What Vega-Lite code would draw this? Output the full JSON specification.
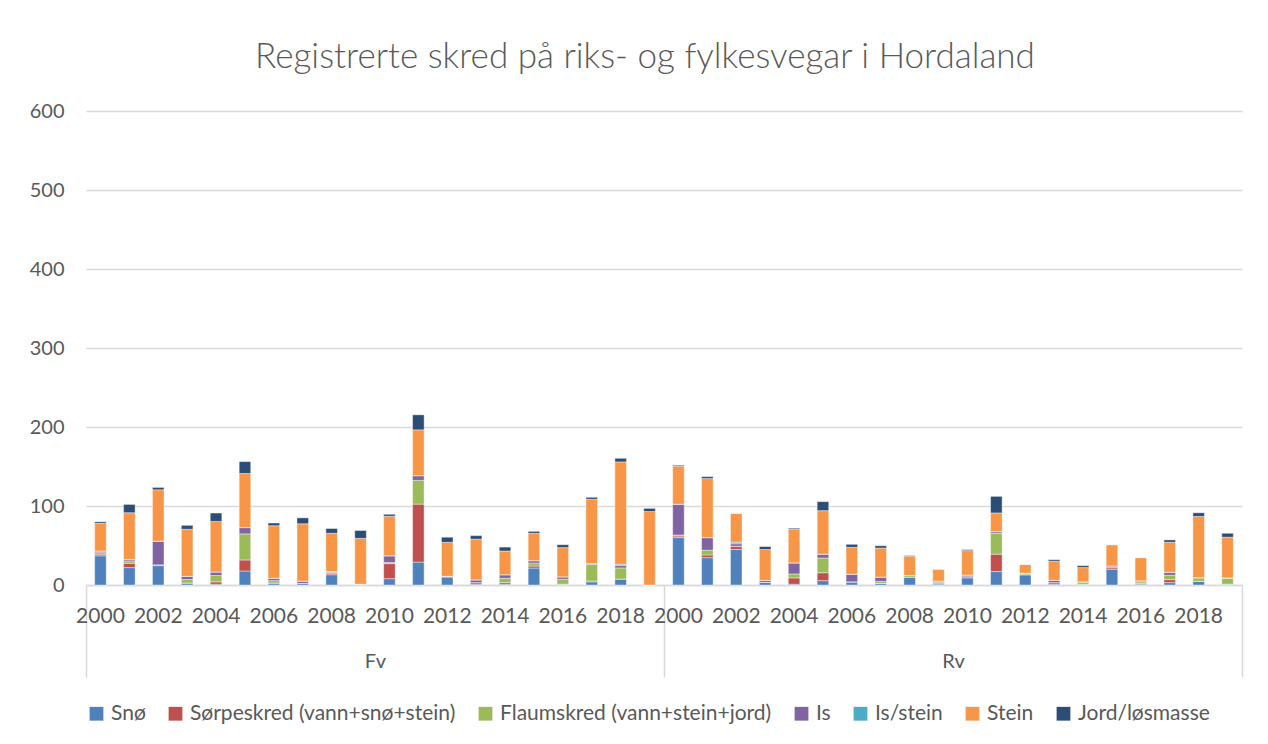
{
  "$schema": "https://vega.github.io/schema/vega-lite/v6.json",
  "autosize": "none",
  "width": 1156,
  "height": 474,
  "padding": {"left": 86, "top": 111, "right": 26, "bottom": 159},
  "background": "white",
  "config": {
    "view": {"stroke": null},
    "font": "Lato",
    "text": {"font": "Lato"}
  },
  "title": {
    "text": "Registrerte skred på riks- og fylkesvegar i Hordaland",
    "font": "Lato",
    "fontSize": 35,
    "fontWeight": 300,
    "color": "#595959",
    "anchor": "middle",
    "offset": 26,
    "dx": -19
  },
  "data": {
    "values": [
      {"g": "Fv", "year": 2000, "Snø": 37, "Sørpeskred (vann+snø+stein)": 2, "Flaumskred (vann+stein+jord)": 2, "Is": 2, "Is/stein": 0, "Stein": 35, "Jord/løsmasse": 2},
      {"g": "Fv", "year": 2001, "Snø": 22, "Sørpeskred (vann+snø+stein)": 5.5, "Flaumskred (vann+stein+jord)": 3, "Is": 2, "Is/stein": 0, "Stein": 59, "Jord/løsmasse": 10.5},
      {"g": "Fv", "year": 2002, "Snø": 24.5, "Sørpeskred (vann+snø+stein)": 1, "Flaumskred (vann+stein+jord)": 0, "Is": 30, "Is/stein": 0, "Stein": 65, "Jord/løsmasse": 3},
      {"g": "Fv", "year": 2003, "Snø": 2.5, "Sørpeskred (vann+snø+stein)": 0, "Flaumskred (vann+stein+jord)": 4.5, "Is": 4, "Is/stein": 0, "Stein": 59.5, "Jord/løsmasse": 5},
      {"g": "Fv", "year": 2004, "Snø": 1, "Sørpeskred (vann+snø+stein)": 3, "Flaumskred (vann+stein+jord)": 8, "Is": 4.5, "Is/stein": 0, "Stein": 64, "Jord/løsmasse": 10.5},
      {"g": "Fv", "year": 2005, "Snø": 17.7, "Sørpeskred (vann+snø+stein)": 14, "Flaumskred (vann+stein+jord)": 33, "Is": 8, "Is/stein": 0, "Stein": 68.5, "Jord/løsmasse": 15},
      {"g": "Fv", "year": 2006, "Snø": 2.5, "Sørpeskred (vann+snø+stein)": 0, "Flaumskred (vann+stein+jord)": 3, "Is": 3, "Is/stein": 0, "Stein": 66.5, "Jord/løsmasse": 3.5},
      {"g": "Fv", "year": 2007, "Snø": 2, "Sørpeskred (vann+snø+stein)": 0, "Flaumskred (vann+stein+jord)": 0, "Is": 3, "Is/stein": 0, "Stein": 72.5, "Jord/løsmasse": 7.5},
      {"g": "Fv", "year": 2008, "Snø": 13, "Sørpeskred (vann+snø+stein)": 2, "Flaumskred (vann+stein+jord)": 1, "Is": 1, "Is/stein": 0, "Stein": 48.5, "Jord/løsmasse": 6},
      {"g": "Fv", "year": 2009, "Snø": 1, "Sørpeskred (vann+snø+stein)": 0, "Flaumskred (vann+stein+jord)": 0, "Is": 0, "Is/stein": 0, "Stein": 58, "Jord/løsmasse": 10},
      {"g": "Fv", "year": 2010, "Snø": 8, "Sørpeskred (vann+snø+stein)": 19, "Flaumskred (vann+stein+jord)": 1.5, "Is": 8.5, "Is/stein": 0, "Stein": 50, "Jord/løsmasse": 2.5},
      {"g": "Fv", "year": 2011, "Snø": 29, "Sørpeskred (vann+snø+stein)": 73.4, "Flaumskred (vann+stein+jord)": 30, "Is": 6, "Is/stein": 0, "Stein": 58, "Jord/løsmasse": 19},
      {"g": "Fv", "year": 2012, "Snø": 10, "Sørpeskred (vann+snø+stein)": 1, "Flaumskred (vann+stein+jord)": 0, "Is": 0, "Is/stein": 0, "Stein": 43, "Jord/løsmasse": 6.5},
      {"g": "Fv", "year": 2013, "Snø": 1, "Sørpeskred (vann+snø+stein)": 2, "Flaumskred (vann+stein+jord)": 0, "Is": 3.5, "Is/stein": 0, "Stein": 51.5, "Jord/løsmasse": 4.5},
      {"g": "Fv", "year": 2014, "Snø": 1, "Sørpeskred (vann+snø+stein)": 2, "Flaumskred (vann+stein+jord)": 5.5, "Is": 4.5, "Is/stein": 0, "Stein": 30, "Jord/løsmasse": 5},
      {"g": "Fv", "year": 2015, "Snø": 21.5, "Sørpeskred (vann+snø+stein)": 2.5, "Flaumskred (vann+stein+jord)": 3.8, "Is": 3, "Is/stein": 0, "Stein": 34.6, "Jord/løsmasse": 2.5},
      {"g": "Fv", "year": 2016, "Snø": 1, "Sørpeskred (vann+snø+stein)": 0, "Flaumskred (vann+stein+jord)": 6.3, "Is": 3, "Is/stein": 0, "Stein": 37, "Jord/løsmasse": 3.7},
      {"g": "Fv", "year": 2017, "Snø": 4, "Sørpeskred (vann+snø+stein)": 1, "Flaumskred (vann+stein+jord)": 21, "Is": 1, "Is/stein": 0, "Stein": 81.5, "Jord/løsmasse": 2.5},
      {"g": "Fv", "year": 2018, "Snø": 7.6, "Sørpeskred (vann+snø+stein)": 0, "Flaumskred (vann+stein+jord)": 14, "Is": 3, "Is/stein": 1.7, "Stein": 129.5, "Jord/løsmasse": 4.6},
      {"g": "Fv", "year": 2019, "Snø": 0, "Sørpeskred (vann+snø+stein)": 0, "Flaumskred (vann+stein+jord)": 0, "Is": 0, "Is/stein": 0, "Stein": 93, "Jord/løsmasse": 4},
      {"g": "Rv", "year": 2000, "Snø": 60, "Sørpeskred (vann+snø+stein)": 2, "Flaumskred (vann+stein+jord)": 1.3, "Is": 39, "Is/stein": 0, "Stein": 48, "Jord/løsmasse": 1.3},
      {"g": "Rv", "year": 2001, "Snø": 34.6, "Sørpeskred (vann+snø+stein)": 3.4, "Flaumskred (vann+stein+jord)": 6, "Is": 16, "Is/stein": 0, "Stein": 74.7, "Jord/løsmasse": 2.5},
      {"g": "Rv", "year": 2002, "Snø": 45, "Sørpeskred (vann+snø+stein)": 4.2, "Flaumskred (vann+stein+jord)": 0, "Is": 3, "Is/stein": 2, "Stein": 36.5, "Jord/løsmasse": 0},
      {"g": "Rv", "year": 2003, "Snø": 3.4, "Sørpeskred (vann+snø+stein)": 0, "Flaumskred (vann+stein+jord)": 0, "Is": 2.5, "Is/stein": 0, "Stein": 39, "Jord/løsmasse": 3.8},
      {"g": "Rv", "year": 2004, "Snø": 1, "Sørpeskred (vann+snø+stein)": 8, "Flaumskred (vann+stein+jord)": 5, "Is": 14, "Is/stein": 0, "Stein": 42.6, "Jord/løsmasse": 1.3},
      {"g": "Rv", "year": 2005, "Snø": 5.5, "Sørpeskred (vann+snø+stein)": 10, "Flaumskred (vann+stein+jord)": 18.6, "Is": 5, "Is/stein": 0, "Stein": 55, "Jord/løsmasse": 11.4},
      {"g": "Rv", "year": 2006, "Snø": 4, "Sørpeskred (vann+snø+stein)": 0, "Flaumskred (vann+stein+jord)": 0, "Is": 9.7, "Is/stein": 0, "Stein": 34, "Jord/løsmasse": 3.8},
      {"g": "Rv", "year": 2007, "Snø": 2, "Sørpeskred (vann+snø+stein)": 0, "Flaumskred (vann+stein+jord)": 2.5, "Is": 5.5, "Is/stein": 0, "Stein": 36.7, "Jord/løsmasse": 3},
      {"g": "Rv", "year": 2008, "Snø": 10, "Sørpeskred (vann+snø+stein)": 0, "Flaumskred (vann+stein+jord)": 2, "Is": 0, "Is/stein": 0, "Stein": 24.5, "Jord/løsmasse": 0.8},
      {"g": "Rv", "year": 2009, "Snø": 1.5, "Sørpeskred (vann+snø+stein)": 0, "Flaumskred (vann+stein+jord)": 2, "Is": 1.5, "Is/stein": 0, "Stein": 15, "Jord/løsmasse": 0},
      {"g": "Rv", "year": 2010, "Snø": 9, "Sørpeskred (vann+snø+stein)": 1.5, "Flaumskred (vann+stein+jord)": 0, "Is": 2, "Is/stein": 0, "Stein": 31, "Jord/løsmasse": 1.3},
      {"g": "Rv", "year": 2011, "Snø": 17, "Sørpeskred (vann+snø+stein)": 22, "Flaumskred (vann+stein+jord)": 26.6, "Is": 2, "Is/stein": 0, "Stein": 23.6, "Jord/løsmasse": 21},
      {"g": "Rv", "year": 2012, "Snø": 13, "Sørpeskred (vann+snø+stein)": 0, "Flaumskred (vann+stein+jord)": 2, "Is": 0, "Is/stein": 0, "Stein": 11, "Jord/løsmasse": 0},
      {"g": "Rv", "year": 2013, "Snø": 1, "Sørpeskred (vann+snø+stein)": 2, "Flaumskred (vann+stein+jord)": 0, "Is": 3, "Is/stein": 0, "Stein": 24, "Jord/løsmasse": 2},
      {"g": "Rv", "year": 2014, "Snø": 1, "Sørpeskred (vann+snø+stein)": 0, "Flaumskred (vann+stein+jord)": 3, "Is": 0, "Is/stein": 0, "Stein": 18, "Jord/løsmasse": 2.5},
      {"g": "Rv", "year": 2015, "Snø": 20, "Sørpeskred (vann+snø+stein)": 2, "Flaumskred (vann+stein+jord)": 0, "Is": 2, "Is/stein": 0, "Stein": 27, "Jord/løsmasse": 0},
      {"g": "Rv", "year": 2016, "Snø": 1, "Sørpeskred (vann+snø+stein)": 1, "Flaumskred (vann+stein+jord)": 2, "Is": 1.3, "Is/stein": 0, "Stein": 29.3, "Jord/løsmasse": 0},
      {"g": "Rv", "year": 2017, "Snø": 3, "Sørpeskred (vann+snø+stein)": 3.8, "Flaumskred (vann+stein+jord)": 5.5, "Is": 3.8, "Is/stein": 0, "Stein": 38, "Jord/løsmasse": 3},
      {"g": "Rv", "year": 2018, "Snø": 4.6, "Sørpeskred (vann+snø+stein)": 0, "Flaumskred (vann+stein+jord)": 4.6, "Is": 0, "Is/stein": 0, "Stein": 77.6, "Jord/løsmasse": 4.6},
      {"g": "Rv", "year": 2019, "Snø": 1, "Sørpeskred (vann+snø+stein)": 0, "Flaumskred (vann+stein+jord)": 8, "Is": 0, "Is/stein": 0, "Stein": 51.5, "Jord/løsmasse": 5}
    ]
  },
  "encoding": {
    "x": {
      "field": "g",
      "type": "nominal",
      "title": null,
      "scale": {"paddingInner": 0, "paddingOuter": 0},
      "axis": {
        "labelAngle": 0,
        "labelFont": "Lato",
        "labelFontSize": 20,
        "labelColor": "#595959",
        "labelPadding": -26,
        "domainColor": "#d9d9d9",
        "domainWidth": 1.5,
        "tickBand": "extent",
        "tickSize": 92,
        "tickColor": "#d9d9d9",
        "tickWidth": 1.5,
        "grid": false
      }
    },
    "xOffset": {
      "field": "year",
      "type": "ordinal",
      "scale": {"paddingInner": 0.6, "paddingOuter": 0.3}
    }
  },
  "layer": [
    {
      "transform": [
        {"fold": ["Snø", "Sørpeskred (vann+snø+stein)", "Flaumskred (vann+stein+jord)", "Is", "Is/stein", "Stein", "Jord/løsmasse"], "as": ["type", "value"]},
        {"window": [{"op": "row_number", "as": "k"}], "groupby": ["g", "year"]}
      ],
      "mark": {"type": "bar", "stroke": "white", "strokeWidth": 0.6, "strokeOpacity": 0.7},
      "encoding": {
        "y": {
          "field": "value",
          "type": "quantitative",
          "stack": "zero",
          "title": null,
          "scale": {"domain": [0, 600]},
          "axis": {
            "values": [0, 100, 200, 300, 400, 500, 600],
            "domain": false,
            "ticks": false,
            "labelFont": "Lato",
            "labelFontSize": 20,
            "labelColor": "#595959",
            "labelPadding": 22,
            "gridColor": "#d9d9d9",
            "gridWidth": 1.5
          }
        },
        "color": {
          "field": "type",
          "type": "nominal",
          "scale": {
            "domain": ["Snø", "Sørpeskred (vann+snø+stein)", "Flaumskred (vann+stein+jord)", "Is", "Is/stein", "Stein", "Jord/løsmasse"],
            "range": ["#4F81BD", "#C0504D", "#9BBB59", "#8064A2", "#4BACC6", "#F79646", "#2C4D75"]
          },
          "legend": {
            "title": null,
            "orient": "bottom",
            "direction": "horizontal",
            "symbolType": "square",
            "symbolSize": 190,
            "symbolStrokeWidth": 0,
            "labelFont": "Lato",
            "labelFontSize": 21,
            "labelColor": "#595959",
            "labelOffset": 4,
            "columnPadding": 19,
            "offset": 25,
            "labelLimit": 400
          }
        },
        "order": {"field": "k", "type": "quantitative", "sort": "ascending"}
      }
    },
    {
      "transform": [{"filter": "datum.year % 2 == 0"}],
      "mark": {"type": "text", "baseline": "top", "dy": 21, "fontSize": 21, "font": "Lato", "color": "#595959"},
      "encoding": {
        "y": {"datum": 0},
        "text": {"field": "year", "type": "ordinal"}
      }
    }
  ]
}
